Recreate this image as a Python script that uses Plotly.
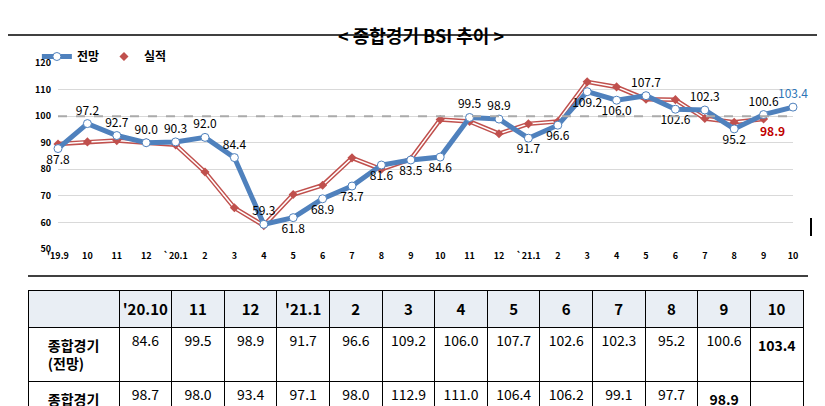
import plotly.graph_objects as go

months = ["'19.9","10","11","12","`20.1","2","3","4","5","6","7","8","9","10","11","12","`21.1","2","3","4","5","6","7","8","9","10"]
forecast = [87.8,97.2,92.7,90.0,90.3,92.0,84.4,59.3,61.8,68.9,73.7,81.6,83.5,84.6,99.5,98.9,91.7,96.6,109.2,106.0,107.7,102.6,102.3,95.2,100.6,103.4]
actual = [89.5,90.3,90.8,90.0,89.2,79.0,65.5,58.8,70.5,74.0,84.3,80.0,83.8,98.7,98.0,93.4,97.1,98.0,112.9,111.0,106.4,106.2,99.1,97.7,98.9,None]
label_pos = ["bottom center","top center","top center","top center","top center","top center","top center","top center",
             "bottom center","bottom center","bottom center","bottom center","bottom center","bottom center","top center","top center",
             "bottom center","bottom center","bottom center","bottom center","top center","bottom center","top center","bottom center","top center","top center"]
tbl_months = ["'20.10","11","12","'21.1","2","3","4","5","6","7","8","9","10"]
tbl_fore = ["84.6","99.5","98.9","91.7","96.6","109.2","106.0","107.7","102.6","102.3","95.2","100.6","<b>103.4</b>"]
tbl_act = ["98.7","98.0","93.4","97.1","98.0","112.9","111.0","106.4","106.2","99.1","97.7","<b>98.9</b>",""]

W, H = 825, 406
x = list(range(len(months)))
FONT = "Noto Sans CJK KR"
fig = go.Figure()
fig.add_trace(go.Scatter(x=x, y=actual, mode="lines", line=dict(color="#c0504d", width=4.5),
                         showlegend=False, hoverinfo="skip", cliponaxis=False))
fig.add_trace(go.Scatter(x=x, y=actual, mode="lines+markers", name="<b>실적</b>",
                         line=dict(color="white", width=1.5),
                         marker=dict(symbol="diamond", size=7, color="#c0504d"), cliponaxis=False))
tcolors = ["black"]*len(x); tcolors[-1] = "#2e75b6"
fig.add_trace(go.Scatter(x=x, y=forecast, mode="lines+markers+text", name="<b>전망</b>",
                         line=dict(color="#4f81bd", width=5),
                         marker=dict(symbol="circle", size=8, color="white", line=dict(color="#4f81bd", width=1)),
                         text=[f"{v:.1f}" for v in forecast], textposition=label_pos,
                         textfont=dict(size=12, color=tcolors, family=FONT), cliponaxis=False))
fig.add_annotation(x=24.3, y=94.5, text="<b>98.9</b>", showarrow=False, font=dict(size=12, color="#c00000", family=FONT))

ytop, ybot = 1-55/H, 1-241/H
fig.update_layout(
    width=W, height=H, margin=dict(l=0, r=0, t=0, b=0, autoexpand=False), paper_bgcolor="white", plot_bgcolor="white",
    font=dict(family=FONT, color="black"),
    xaxis=dict(domain=[50/W, 785/W], range=[0, 25], tickmode="array", tickvals=x, ticktext=[f"<b>{m}</b>" for m in months],
               tickfont=dict(size=9), showgrid=False, zeroline=False, showline=False, automargin=False),
    yaxis=dict(domain=[ybot, ytop], range=[50, 120], dtick=10, gridcolor="#d9d9d9",
               tickfont=dict(size=9), zeroline=False, automargin=False, tickprefix="<b>", ticksuffix="</b>", ticklabelstandoff=6),
    legend=dict(orientation="h", x=0.035, y=1-34/H, yanchor="top", font=dict(size=12), traceorder="reversed",
                bgcolor="rgba(0,0,0,0)", itemwidth=30),
    shapes=[
        dict(type="line", xref="x", yref="y", x0=0, x1=25, y0=100, y1=100, line=dict(color="#aaaaaa", width=2, dash="dash")),
        dict(type="line", xref="paper", yref="paper", x0=0, x1=1, y0=1-27/H, y1=1-27/H, line=dict(color="black", width=1.5)),
        dict(type="line", xref="paper", yref="paper", x0=20/W, x1=800/W, y0=1-268/H, y1=1-268/H, line=dict(color="black", width=1.5)),
        dict(type="line", xref="paper", yref="paper", x0=803/W, x1=803/W, y0=1-210/H, y1=1-228/H, line=dict(color="black", width=2)),
    ],
    annotations=list(fig.layout.annotations) + [
        dict(text="<b>< 종합경기 BSI 추이 ></b>", xref="paper", yref="paper", x=0.5, y=1-12/H,
             showarrow=False, font=dict(size=18, family=FONT))],
)

fig.add_trace(go.Table(
    domain=dict(x=[20/W, 795/W], y=[1-400/H, 1-282/H]),
    columnwidth=[90] + [52]*13,
    header=dict(values=[""] + [f"<b>{m}</b>" for m in tbl_months], height=26,
                fill_color="#e9eef4", line_color="black", align="center",
                font=dict(size=15, family=FONT, color="black")),
    cells=dict(values=[["<b>종합경기<br>(전망)</b>", "<b>종합경기<br>(실적)</b>"]] + [[f, a] for f, a in zip(tbl_fore, tbl_act)],
               height=42, fill_color="white", line_color="black", align="center",
               font=dict(size=[14] + [14]*13, family=FONT, color="black")),
))
fig.write_html("out.html")
